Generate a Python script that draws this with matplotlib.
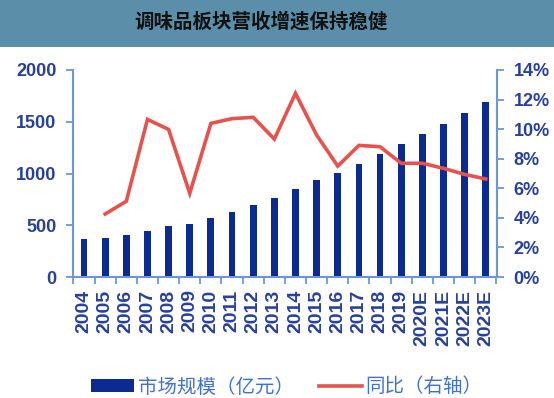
import matplotlib
matplotlib.use("Agg")
import matplotlib.pyplot as plt
from matplotlib.patches import Rectangle
from matplotlib.ticker import FixedLocator, PercentFormatter

plt.rcParams['font.family'] = ['Liberation Sans', 'Noto Sans CJK SC', 'DejaVu Sans']

years = ["2004", "2005", "2006", "2007", "2008", "2009", "2010", "2011", "2012", "2013",
         "2014", "2015", "2016", "2017", "2018", "2019", "2020E", "2021E", "2022E", "2023E"]
market_size = [367, 380, 403, 444, 490, 515, 570, 628, 693, 760,
               855, 937, 1008, 1095, 1191, 1285, 1382, 1481, 1585, 1688]
# 同比 (%), 2004 没有
yoy = [None, 4.26, 5.12, 10.66, 9.98, 5.66, 10.39, 10.71, 10.8, 9.33,
       12.42, 9.6, 7.5, 8.9, 8.81, 7.69, 7.69, 7.35, 6.94, 6.63]

title = "调味品板块营收增速保持稳健"
bar_label = "市场规模（亿元）"
line_label = "同比（右轴）"

bar_color = "#0b2a92"
line_color = "#e8524c"
spine_color = "#6b96d9"
tick_color = "#27409e"
legend_color = "#3f70d2"

fig = plt.figure(figsize=(5.54, 3.98), dpi=100)
fig.patch.set_facecolor("white")

# title band
fig.patches.append(Rectangle((0, 1 - 47 / 398), 1, 47 / 398, transform=fig.transFigure,
                             facecolor="#5b8fa9", edgecolor="none", zorder=0))
fig.text(0.472, 1 - 22 / 398, title, ha="center", va="center", fontsize=14,
         fontweight="bold", color="#111111", family=['Noto Sans CJK SC', 'DejaVu Sans'])

ax = fig.add_axes([73 / 554, 1 - 277 / 398, 424 / 554, 207 / 398])
x = list(range(len(years)))
bars = ax.bar(x, market_size, width=0.32, color=bar_color, zorder=2)
ax.set_ylim(0, 2000)
ax.set_xlim(-0.52, len(years) - 0.47)
ax.set_yticks([0, 500, 1000, 1500, 2000])

ax2 = ax.twinx()
lx = [i for i, v in enumerate(yoy) if v is not None]
ly = [v for v in yoy if v is not None]
line, = ax2.plot(lx, ly, color=line_color, lw=2.6, solid_joinstyle="miter", zorder=3)
ax2.set_ylim(0, 14)
ax2.set_yticks(range(0, 15, 2))
ax2.yaxis.set_major_formatter(PercentFormatter(decimals=0))

for a in (ax, ax2):
    for s in a.spines.values():
        s.set_visible(False)
    a.tick_params(colors=spine_color, labelcolor=tick_color, labelsize=13, length=5, width=1.3)
ax.spines["left"].set_visible(True)
ax.spines["bottom"].set_visible(True)
ax2.spines["right"].set_visible(True)
for s in (ax.spines["left"], ax.spines["bottom"], ax2.spines["right"]):
    s.set_color(spine_color)
    s.set_linewidth(1.5)

ax.set_xticks(x)
ax.set_xticklabels(years, rotation=90, fontsize=14, fontweight="bold")
ax.xaxis.set_minor_locator(FixedLocator([i + 0.5 for i in range(-1, len(years))]))
ax.tick_params(axis="x", which="major", length=0, pad=9)
ax.tick_params(axis="x", which="minor", length=5, width=1.3, color=spine_color)
ax.tick_params(axis="y", pad=7)
ax2.tick_params(axis="y", pad=7)
for t in ax.get_yticklabels() + ax2.get_yticklabels():
    t.set_fontweight("bold")

leg = fig.legend([bars, line], [bar_label, line_label], loc="center", ncol=2,
                 bbox_to_anchor=(0.518, 1 - 387 / 398), frameon=False,
                 prop={'family': ['Noto Sans CJK SC', 'DejaVu Sans'], 'size': 14},
                 handlelength=2.2, handletextpad=0.2, columnspacing=1.3, handleheight=0.6)
for t in leg.get_texts():
    t.set_color(legend_color)

fig.savefig("out.png", dpi=100)
